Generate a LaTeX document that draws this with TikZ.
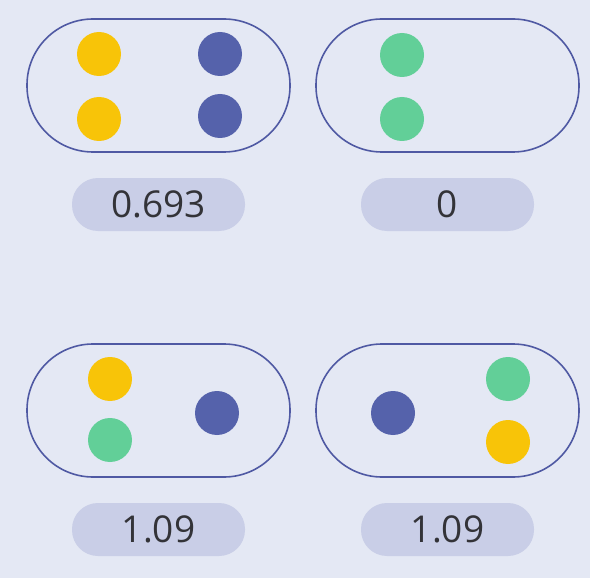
\documentclass[tikz,border=0pt]{standalone}
\usepackage{fontspec}
\setmainfont{Open Sans}
\usepackage{tikz}
\usetikzlibrary{positioning}
\definecolor{bgcol}{HTML}{E4E8F4}
\definecolor{rimcol}{HTML}{4F59A3}
\definecolor{pillcol}{HTML}{C9CEE7}
\definecolor{sunny}{HTML}{F8C408}
\definecolor{navy}{HTML}{5562AB}
\definecolor{mint}{HTML}{62CF98}
\definecolor{digits}{HTML}{333338}

\begin{document}
\begin{tikzpicture}[
        x=1pt, y=-1pt,
        every node/.style={inner sep=0pt},
        capsule/.style={rectangle, draw=rimcol, line width=1.6pt, minimum width=263pt, minimum height=133pt, rounded corners=66pt},
        pill/.style={rectangle, fill=pillcol, minimum width=173pt, minimum height=53pt, rounded corners=26pt, font=\fontsize{37}{40}\selectfont, text=digits},
        ball/.style={circle, minimum size=44pt},
        yel/.style={ball, fill=sunny},
        blu/.style={ball, fill=navy},
        grn/.style={ball, fill=mint}
    ]
        % Background
        \fill[bgcol] (0,0) rectangle (590,578);
        \useasboundingbox (0,0) rectangle (590,578);
        % Capsules
        \node[capsule] (capA) at (158.5,85.5) {};
        \node[capsule] (capB) at (447.5,85.5) {};
        \node[capsule] (capC) at (158.5,410.5) {};
        \node[capsule] (capD) at (447.5,410.5) {};
        % Values
        \node[pill, below=25pt of capA] (valA) {0.693};
        \node[pill, below=25pt of capB] (valB) {0};
        \node[pill, below=25pt of capC] (valC) {1.09};
        \node[pill, below=25pt of capD] (valD) {1.09};
        % Capsule A: two yellow, two blue
        \node[yel] (a1) at (99,54) {};
        \node[yel] (a2) at (99,119) {};
        \node[blu] (a3) at (220,54) {};
        \node[blu] (a4) at (220,116) {};
        % Capsule B: two green
        \node[grn] (b1) at (402,55) {};
        \node[grn] (b2) at (402,119) {};
        % Capsule C: yellow, green, blue
        \node[yel] (c1) at (110,379) {};
        \node[grn] (c2) at (110,440) {};
        \node[blu] (c3) at (217,413) {};
        % Capsule D: blue, green, yellow
        \node[blu] (d1) at (393,413) {};
        \node[grn] (d2) at (508,379) {};
        \node[yel] (d3) at (508,442) {};
    \end{tikzpicture}
\end{document}
